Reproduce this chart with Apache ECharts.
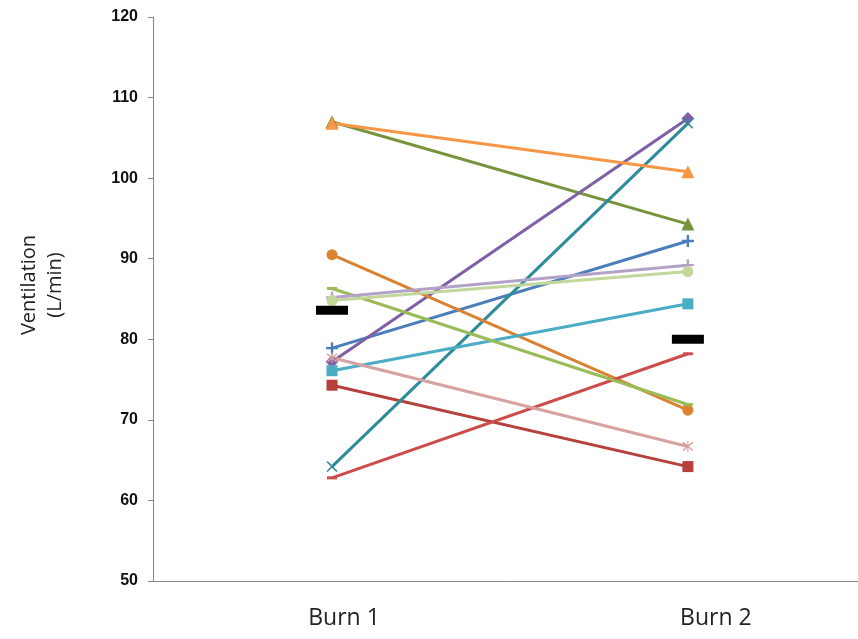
<!DOCTYPE html>
<html><head><meta charset="utf-8">
<script src="https://cdn.jsdelivr.net/npm/echarts@6/dist/echarts.min.js"></script>
<style>html,body{margin:0;padding:0;background:#fff}#c{width:858px;height:639px}</style>
</head><body><div id="c"></div>
<script>
const categories = ['Burn 1', 'Burn 2'];
const yTicks = [50, 60, 70, 80, 90, 100, 110, 120];
const s1 = [78.9, 92.2];   // blue plus
const s2 = [74.3, 64.2];   // dark red square
const s3 = [107.0, 94.3];  // olive triangle
const s4 = [77.2, 107.4];  // purple diamond
const s5 = [64.2, 106.8];  // teal x
const s6 = [90.5, 71.2];   // orange circle
const s7 = [76.1, 84.4];   // aqua square
const s8 = [62.8, 78.2];   // red dash
const s9 = [106.8, 100.8]; // light orange triangle
const s10 = [86.3, 71.9];  // yellow-green dash
const s11 = [85.2, 89.2];  // lavender plus
const s12 = [84.8, 88.4];  // pale green circle
const s13 = [77.7, 66.7];  // pink star
const means = [83.6, 80.0];

const PLUS = 'path://M4,0H6V10H4ZM0,4H10V6H0Z';
const XMARK = 'path://M1,0L5,4L9,0L10,1L6,5L10,9L9,10L5,6L1,10L0,9L4,5L0,1Z';
const STAR = 'path://M1,0L5,4L9,0L10,1L6,5L10,9L9,10L5,6L1,10L0,9L4,5L0,1ZM4.5,-1H5.5V11H4.5Z';

const defs = [
  [s1, '#4A7EBB', PLUS, 12],
  [s2, '#B5403C', 'rect', 11],
  [s3, '#77933C', 'triangle', 13],
  [s4, '#7F60A8', 'diamond', 13],
  [s5, '#2E8B9A', XMARK, 11],
  [s6, '#DA8232', 'circle', 11],
  [s7, '#4BACC6', 'rect', 11],
  [s8, '#CD4C4B', 'rect', [10, 3]],
  [s9, '#F79646', 'triangle', 13],
  [s10, '#9BBB59', 'rect', [10, 3]],
  [s11, '#B3A2C7', PLUS, 12],
  [s12, '#C3D69B', 'circle', 11],
  [s13, '#D8A0A0', STAR, 11]
];

const toPts = arr => arr.map((v, i) => [i, v]);

const series = defs.map(d => ({
  type: 'line', data: toPts(d[0]), symbol: d[2], symbolSize: d[3], showSymbol: true,
  lineStyle: { color: d[1], width: 3 }, itemStyle: { color: d[1], opacity: 1 }, animation: false, z: 2
}));
series.push({
  type: 'scatter', data: toPts(means), symbol: 'rect', symbolSize: [32, 9],
  itemStyle: { color: '#000', opacity: 1 }, animation: false, z: 5
});

const chart = echarts.init(document.getElementById('c'));
chart.setOption({
  backgroundColor: '#fff',
  grid: { left: 153, top: 17, right: 0, height: 564 },
  xAxis: {
    type: 'value', min: -0.503, max: 1.478,
    splitLine: { show: false },
    axisLine: { show: true, onZero: false, lineStyle: { color: '#868686', width: 1 } },
    axisTick: { show: false },
    axisLabel: {
      customValues: [0, 1],
      formatter: v => (v === 0 ? '{a|' : '{b|') + categories[Math.round(v)] + '}',
      rich: {
        a: { fontFamily: 'Open Sans', fontSize: 23, color: '#222', padding: [0, 0, 0, 24] },
        b: { fontFamily: 'Open Sans', fontSize: 23, color: '#222', padding: [0, 0, 0, 56] }
      },
      margin: 26
    }
  },
  yAxis: {
    type: 'value', min: yTicks[0], max: yTicks[yTicks.length - 1], interval: 10,
    splitLine: { show: false },
    axisLine: { show: true, onZero: false, lineStyle: { color: '#868686', width: 1 } },
    axisTick: { show: true, length: 5, lineStyle: { color: '#868686' } },
    axisLabel: { fontFamily: 'Liberation Sans', fontWeight: 'bold', fontSize: 16, color: '#111', margin: 15 }
  },
  graphic: [{
    type: 'text', x: 42, y: 285, rotation: Math.PI / 2,
    style: { text: 'Ventilation\n(L/min)', textAlign: 'center', textVerticalAlign: 'middle',
      fontFamily: 'Open Sans', fontSize: 20, fill: '#222', lineHeight: 26 }
  }],
  series: series
});
</script></body></html>
